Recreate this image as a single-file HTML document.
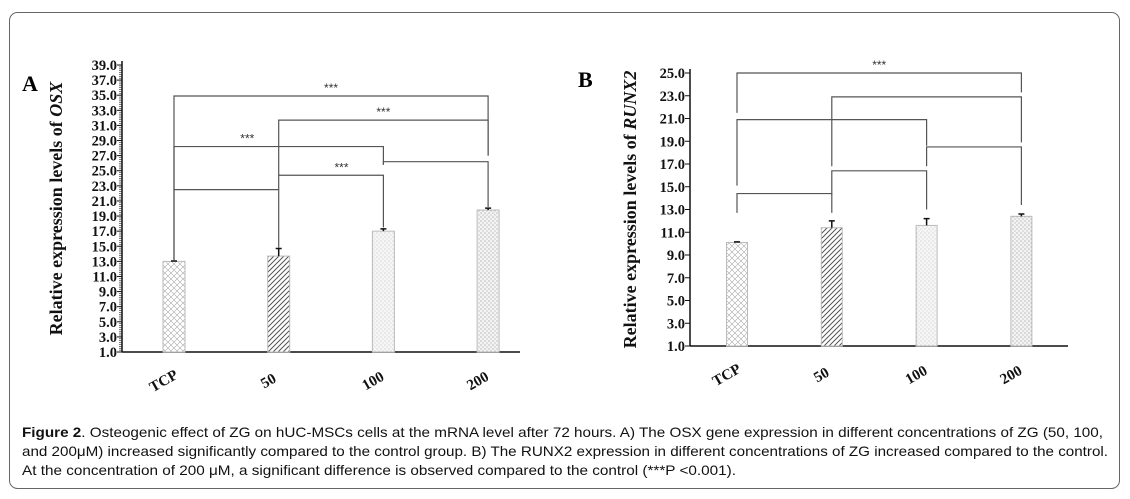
<!DOCTYPE html>
<html><head><meta charset="utf-8">
<style>
html,body{margin:0;padding:0;background:#fff;}
svg{display:block;}
.tk{font-family:"Liberation Serif",serif;font-weight:bold;font-size:14.5px;fill:#111;}
.xl{font-family:"Liberation Serif",serif;font-weight:bold;font-size:15px;fill:#111;}
.yt{font-family:"Liberation Serif",serif;font-weight:bold;font-size:18px;fill:#111;}
.cap{font-family:"Liberation Sans",sans-serif;font-size:14px;fill:#111;}
</style></head>
<body>
<svg id="fig" width="1130" height="499" viewBox="0 0 1130 499" xmlns="http://www.w3.org/2000/svg">
<defs>
<pattern id="pTCP" width="6" height="6" patternUnits="userSpaceOnUse"><rect width="6" height="6" fill="#fff"/><path d="M0 6L6 0M0 0L6 6" stroke="#aaa" stroke-width="0.6"/></pattern>
<pattern id="p50" width="5" height="5" patternUnits="userSpaceOnUse"><rect width="5" height="5" fill="#fff"/><path d="M-1 6L6 -1M-1 1L1 -1M4 6L6 4" stroke="#555" stroke-width="1"/></pattern>
<pattern id="p100" width="4" height="4" patternUnits="userSpaceOnUse"><rect width="4" height="4" fill="#f6f6f6"/><circle cx="1" cy="1" r="0.5" fill="#aaa"/><circle cx="3" cy="3" r="0.5" fill="#bbb"/></pattern>
<pattern id="p200" width="4" height="4" patternUnits="userSpaceOnUse"><rect width="4" height="4" fill="#f3f3f3"/><circle cx="1" cy="1" r="0.6" fill="#999"/><circle cx="3" cy="3" r="0.6" fill="#aaa"/></pattern>
</defs>
<rect x="9.5" y="12.5" width="1110" height="476" rx="8" fill="none" stroke="#666" stroke-width="1"/>
<text x="22" y="91" font-family="Liberation Serif,serif" font-weight="bold" font-size="22">A</text>
<text x="578" y="87" font-family="Liberation Serif,serif" font-weight="bold" font-size="22">B</text>
<g id="panelA"></g>
<g id="panelB"></g>
<g>
<text class="cap" x="22" y="437" textLength="1081" lengthAdjust="spacingAndGlyphs"><tspan font-weight="bold">Figure 2</tspan>. Osteogenic effect of ZG on hUC-MSCs cells at the mRNA level after 72 hours. A) The OSX gene expression in different concentrations of ZG (50, 100,</text>
<text class="cap" x="22" y="456" textLength="1086" lengthAdjust="spacingAndGlyphs">and 200μM) increased significantly compared to the control group. B) The RUNX2 expression in different concentrations of ZG increased compared to the control.</text>
<text class="cap" x="22" y="475" textLength="714" lengthAdjust="spacingAndGlyphs">At the concentration of 200 μM, a significant difference is observed compared to the control (***P &lt;0.001).</text>
</g>
</svg>
<script>
const categories = ["TCP","50","100","200"];
const osxValues = [13.0, 13.7, 17.0, 19.8];
const osxErrors = [0.05, 1.0, 0.3, 0.25];
const runx2Values = [10.1, 11.4, 11.6, 12.4];
const runx2Errors = [0.05, 0.6, 0.6, 0.2];
const osxTicks = [1,3,5,7,9,11,13,15,17,19,21,23,25,27,29,31,33,35,37,39];
const runx2Ticks = [1,3,5,7,9,11,13,15,17,19,21,23,25];
// brackets: [from, to, topValue, leftBottomValue, rightBottomValue, stars, starsCenterFraction]
const osxBrackets = [
 [0,3,34.9,13.1,27.0,"***",0.5],
 [1,3,31.7,24.4,27.0,"***",0.5],
 [0,2,28.2,22.5,25.8,"***",0.35],
 [2,3,26.2,25.8,20.2,"",0.5],
 [1,2,24.4,22.5,17.5,"***",0.6],
 [0,1,22.5,13.1,14.8,"",0.5]
];
const runx2Brackets = [
 [0,3,25.0,21.5,23.3,"***",0.5],
 [1,3,22.9,16.8,18.9,"",0.5],
 [0,2,20.9,15.1,18.6,"",0.5],
 [2,3,18.5,16.8,13.4,"",0.5],
 [1,2,16.4,14.3,13.0,"",0.5],
 [0,1,14.4,12.7,12.7,"",0.5]
];
const NS="http://www.w3.org/2000/svg";
function mk(parent,tag,attrs){const e=document.createElementNS(NS,tag);for(const k in attrs)e.setAttribute(k,attrs[k]);parent.appendChild(e);return e;}
function drawPanel(g,cfg,values,errors,ticks,brackets){
 const yMin=ticks[0],yMax=ticks[ticks.length-1];
 const y=v=>cfg.y0-(v-yMin)/(yMax-yMin)*(cfg.y0-cfg.yTop);
 const x=i=>cfg.xFirst+i*cfg.step;
 const pats=["url(#pTCP)","url(#p50)","url(#p100)","url(#p200)"];
 const ya=mk(g,"line",{x1:cfg.x0,y1:cfg.yTop-4,x2:cfg.x0,y2:cfg.y0,stroke:"#111","stroke-width":1.5});
 
 
 const xa=mk(g,"line",{x1:cfg.x0,y1:cfg.y0,x2:cfg.xEnd,y2:cfg.y0,stroke:"#111","stroke-width":1.5});
 
 
 if(cfg.minor){
  for(let v=yMin;v<=yMax+0.001;v+=0.25){
   const m=mk(g,"line",{x1:cfg.x0-3,y1:y(v),x2:cfg.x0,y2:y(v),stroke:"#222","stroke-width":0.6});
   
   
  }
 }
 ticks.forEach(t=>{
  const l=mk(g,"line",{x1:cfg.x0-5,y1:y(t),x2:cfg.x0,y2:y(t),stroke:"#111","stroke-width":1});
  
  
  const tx=mk(g,"text",{x:cfg.x0-5,y:y(t)+5,"text-anchor":"end",class:"tk"});
  tx.textContent=t.toFixed(1);
  
  
 });
 const title=mk(g,"text",{x:0,y:0,class:"yt","text-anchor":"middle",transform:`translate(${cfg.titleX},${(cfg.yTop+cfg.y0)/2}) rotate(-90)`});
 title.innerHTML='Relative expression levels of <tspan font-style="italic">'+cfg.gene+'</tspan>';
 
 
 values.forEach((v,i)=>{
  const b=mk(g,"rect",{x:x(i)-cfg.bw/2,y:y(v),width:cfg.bw,height:cfg.y0-y(v),fill:pats[i],stroke:"#bbb","stroke-width":1});
  
  
  const e=mk(g,"path",{d:`M${x(i)} ${y(v)}V${y(v+errors[i])}M${x(i)-3} ${y(v+errors[i])}H${x(i)+3}`,stroke:"#111","stroke-width":1.5,fill:"none"});
  
  
  const lb=mk(g,"text",{x:0,y:0,class:"xl","text-anchor":"middle",transform:`translate(${x(i)-8},${cfg.y0+33}) rotate(-30)`});
  lb.textContent=categories[i];
  
  
 });
 brackets.forEach(br=>{
  const [a,c,top,lb,rb,st,fr]=br;
  const p=mk(g,"path",{d:`M${x(a)} ${y(lb)}V${y(top)}H${x(c)}V${y(rb)}`,stroke:"#555","stroke-width":1.2,fill:"none"});
  
  
  if(st){
   const s=mk(g,"text",{x:x(a)+(x(c)-x(a))*fr,y:y(top)-4,"text-anchor":"middle","font-family":"Liberation Sans,sans-serif","font-size":"12",fill:"#333"});
   s.textContent=st;
   
   
  }
 });
}
drawPanel(document.getElementById("panelA"),{x0:122,xEnd:520,y0:352,yTop:65,xFirst:174,step:104.7,bw:22,titleX:62,gene:"OSX",minor:true},osxValues,osxErrors,osxTicks,osxBrackets);
drawPanel(document.getElementById("panelB"),{x0:690,xEnd:1068,y0:346,yTop:73,xFirst:737,step:94.8,bw:21,titleX:636,gene:"RUNX2",minor:false},runx2Values,runx2Errors,runx2Ticks,runx2Brackets);
</script>
</body></html>
